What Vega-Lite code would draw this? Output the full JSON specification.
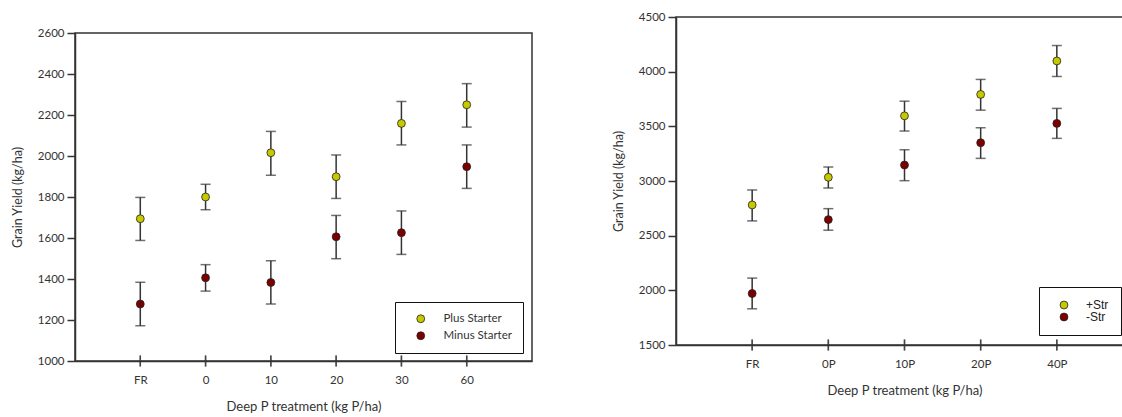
{
  "$schema": "https://vega.github.io/schema/vega-lite/v6.json",
  "padding": {"left": 10, "top": 10, "right": 0, "bottom": 0},
  "spacing": 78,
  "config": {
    "font": "Lato",
    "view": {"stroke": "#333", "strokeWidth": 1.5},
    "axis": {
      "grid": false,
      "domainColor": "#333",
      "domainWidth": 1.5,
      "tickColor": "#333",
      "tickWidth": 1.5,
      "labelColor": "#333",
      "titleColor": "#333",
      "labelFont": "Lato",
      "titleFont": "Lato",
      "titleFontWeight": "normal",
      "labelFontSize": 11.5
    },
    "axisY": {"tickSize": 8, "labelPadding": 3, "titlePadding": 13, "titleFontSize": 12.5, "format": "d"},
    "axisX": {"ticks": false, "labelPadding": 13, "titlePadding": 15, "titleFontSize": 13, "labelAngle": 0}
  },
  "datasets": {
    "left": [
      {"trt": "FR", "group": "Plus Starter", "mean": 1694, "lo": 1588, "hi": 1798},
      {"trt": "0", "group": "Plus Starter", "mean": 1800, "lo": 1738, "hi": 1862},
      {"trt": "10", "group": "Plus Starter", "mean": 2016, "lo": 1906, "hi": 2120},
      {"trt": "20", "group": "Plus Starter", "mean": 1899, "lo": 1793, "hi": 2005},
      {"trt": "30", "group": "Plus Starter", "mean": 2159, "lo": 2054, "hi": 2266},
      {"trt": "60", "group": "Plus Starter", "mean": 2250, "lo": 2141, "hi": 2353},
      {"trt": "FR", "group": "Minus Starter", "mean": 1278, "lo": 1172, "hi": 1384},
      {"trt": "0", "group": "Minus Starter", "mean": 1406, "lo": 1341, "hi": 1470},
      {"trt": "10", "group": "Minus Starter", "mean": 1383, "lo": 1278, "hi": 1489},
      {"trt": "20", "group": "Minus Starter", "mean": 1606, "lo": 1499, "hi": 1710},
      {"trt": "30", "group": "Minus Starter", "mean": 1626, "lo": 1520, "hi": 1732},
      {"trt": "60", "group": "Minus Starter", "mean": 1948, "lo": 1842, "hi": 2054}
    ],
    "right": [
      {"trt": "FR", "group": "+Str", "mean": 2781, "lo": 2635, "hi": 2918},
      {"trt": "0P", "group": "+Str", "mean": 3034, "lo": 2936, "hi": 3128},
      {"trt": "10P", "group": "+Str", "mean": 3596, "lo": 3457, "hi": 3730},
      {"trt": "20P", "group": "+Str", "mean": 3792, "lo": 3648, "hi": 3929},
      {"trt": "40P", "group": "+Str", "mean": 4098, "lo": 3956, "hi": 4239},
      {"trt": "FR", "group": "-Str", "mean": 1971, "lo": 1831, "hi": 2112},
      {"trt": "0P", "group": "-Str", "mean": 2647, "lo": 2550, "hi": 2747},
      {"trt": "10P", "group": "-Str", "mean": 3146, "lo": 3003, "hi": 3286},
      {"trt": "20P", "group": "-Str", "mean": 3350, "lo": 3207, "hi": 3487},
      {"trt": "40P", "group": "-Str", "mean": 3527, "lo": 3390, "hi": 3664}
    ]
  },
  "hconcat": [
    {
      "spacing": 8,
      "vconcat": [
        {
          "data": {"values": []},
          "width": 457,
          "height": 1,
          "view": {"stroke": null},
          "mark": {"type": "rule", "opacity": 0},
          "encoding": {}
        },
        {
          "data": {"name": "left"},
          "width": 457,
          "height": 328,
          "encoding": {
            "x": {"field": "trt", "type": "ordinal", "sort": ["FR", "0", "10", "20", "30", "60"],
                  "scale": {"type": "point", "padding": 1}, "title": "Deep P treatment (kg P/ha)"}
          },
          "layer": [
            {
              "mark": {"type": "rule", "color": "#333", "strokeWidth": 1.5},
              "encoding": {
                "y": {"field": "lo", "type": "quantitative", "scale": {"domain": [1000, 2600], "nice": false, "zero": false},
                      "axis": {"values": [1000, 1200, 1400, 1600, 1800, 2000, 2200, 2400, 2600]}, "title": "Grain Yield (kg/ha)"},
                "y2": {"field": "hi"}
              }
            },
            {
              "mark": {"type": "tick", "color": "#333", "size": 10, "thickness": 1.5},
              "encoding": {"y": {"field": "lo", "type": "quantitative", "title": "Grain Yield (kg/ha)"}}
            },
            {
              "mark": {"type": "tick", "color": "#333", "size": 10, "thickness": 1.5},
              "encoding": {"y": {"field": "hi", "type": "quantitative", "title": "Grain Yield (kg/ha)"}}
            },
            {
              "mark": {"type": "tick", "color": "#333", "size": 11, "thickness": 1.5, "orient": "vertical"},
              "encoding": {"y": {"datum": 1000, "type": "quantitative", "title": "Grain Yield (kg/ha)"}}
            },
            {
              "mark": {"type": "circle", "size": 62, "opacity": 1, "stroke": "#222", "strokeWidth": 0.8},
              "encoding": {
                "y": {"field": "mean", "type": "quantitative", "title": "Grain Yield (kg/ha)"},
                "color": {
                  "field": "group", "type": "nominal",
                  "scale": {"domain": ["Plus Starter", "Minus Starter"], "range": ["#c6c800", "#7d0000"]},
                  "legend": {
                    "orient": "none", "legendX": 320, "legendY": 285, "title": null,
                    "strokeColor": "#111", "fillColor": "white", "padding": 11, "symbolOffset": 9,
                    "labelFont": "Lato", "labelFontSize": 11.5, "labelColor": "#333", "rowPadding": 4,
                    "labelOffset": 17, "symbolType": "circle", "symbolSize": 62,
                    "symbolStrokeColor": "#222", "symbolStrokeWidth": 0.8
                  }
                }
              }
            }
          ]
        }
      ]
    },
    {
      "data": {"name": "right"},
      "width": 457,
      "height": 328,
      "encoding": {
        "x": {"field": "trt", "type": "ordinal", "sort": ["FR", "0P", "10P", "20P", "40P"],
              "scale": {"type": "point", "padding": 1}, "title": "Deep P treatment (kg P/ha)"}
      },
      "layer": [
        {
          "mark": {"type": "rule", "color": "#333", "strokeWidth": 1.5},
          "encoding": {
            "y": {"field": "lo", "type": "quantitative", "scale": {"domain": [1500, 4500], "nice": false, "zero": false},
                  "axis": {"values": [1500, 2000, 2500, 3000, 3500, 4000, 4500]}, "title": "Grain Yield (kg/ha)"},
            "y2": {"field": "hi"}
          }
        },
        {
          "mark": {"type": "tick", "color": "#333", "size": 10, "thickness": 1.5},
          "encoding": {"y": {"field": "lo", "type": "quantitative", "title": "Grain Yield (kg/ha)"}}
        },
        {
          "mark": {"type": "tick", "color": "#333", "size": 10, "thickness": 1.5},
          "encoding": {"y": {"field": "hi", "type": "quantitative", "title": "Grain Yield (kg/ha)"}}
        },
        {
          "mark": {"type": "tick", "color": "#333", "size": 11, "thickness": 1.5, "orient": "vertical"},
          "encoding": {"y": {"datum": 1500, "type": "quantitative", "title": "Grain Yield (kg/ha)"}}
        },
        {
          "mark": {"type": "circle", "size": 62, "opacity": 1, "stroke": "#222", "strokeWidth": 0.8},
          "encoding": {
            "y": {"field": "mean", "type": "quantitative", "title": "Grain Yield (kg/ha)"},
            "color": {
              "field": "group", "type": "nominal",
              "scale": {"domain": ["+Str", "-Str"], "range": ["#c6c800", "#7d0000"]},
              "legend": {
                "orient": "none", "legendX": 363, "legendY": 270, "title": null,
                "strokeColor": "#111", "fillColor": "white", "padding": 12, "symbolOffset": 7,
                "labelFont": "Liberation Sans", "labelFontSize": 12, "labelColor": "#222", "rowPadding": 0,
                "labelOffset": 16, "symbolType": "circle", "symbolSize": 62,
                "symbolStrokeColor": "#222", "symbolStrokeWidth": 0.8
              }
            }
          }
        }
      ]
    }
  ],
  "resolve": {"scale": {"color": "independent", "y": "independent", "x": "independent"}}
}
